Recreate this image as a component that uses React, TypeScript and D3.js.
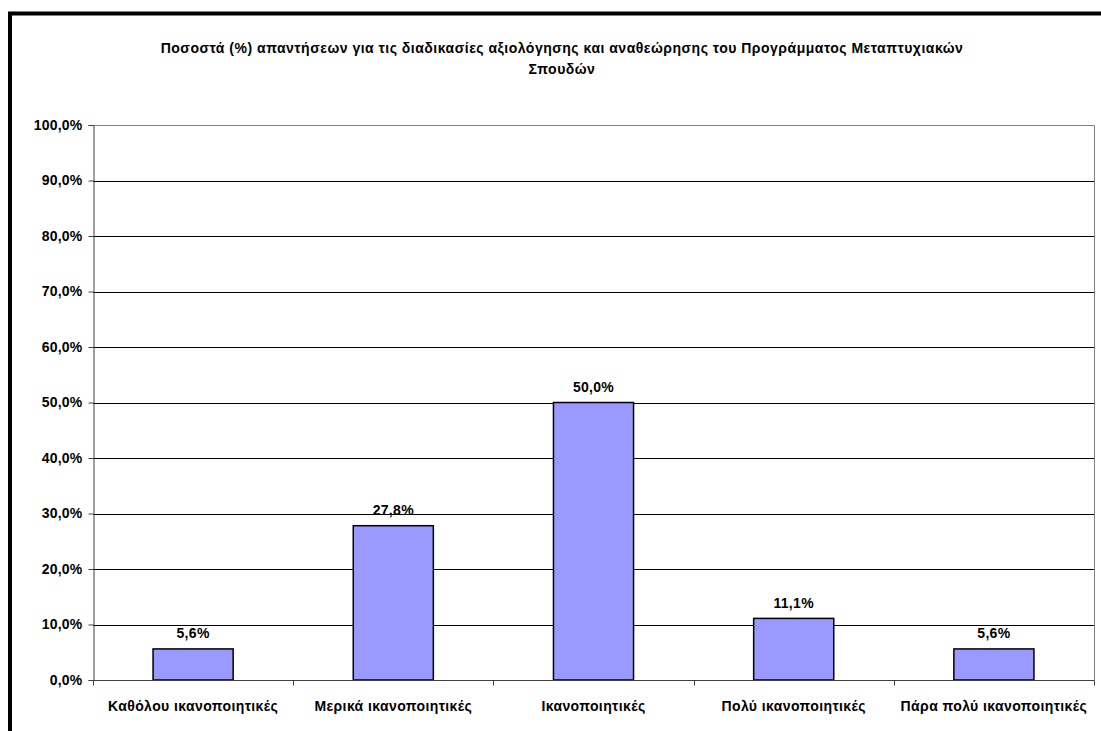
import React, { useEffect, useRef } from 'react';
import * as d3 from 'd3';

const titleLines = [
  'Ποσοστά (%) απαντήσεων για τις διαδικασίες αξιολόγησης και αναθεώρησης του Προγράμματος Μεταπτυχιακών',
  'Σπουδών',
];
const categories = [
  'Καθόλου ικανοποιητικές',
  'Μερικά ικανοποιητικές',
  'Ικανοποιητικές',
  'Πολύ ικανοποιητικές',
  'Πάρα πολύ ικανοποιητικές',
];
const values = [5.6, 27.8, 50.0, 11.1, 5.6];
const yTicks = [0, 10, 20, 30, 40, 50, 60, 70, 80, 90, 100];

export default function App() {
  const ref = useRef<SVGSVGElement>(null);

  const width = 1101;
  const height = 731;
  const left = 93;
  const right = 1094;
  const top = 125;
  const bottom = 680;
  const font = 'Arial, "Liberation Sans", sans-serif';
  const fontSize = 14;

  useEffect(() => {
    const svg = d3.select(ref.current);
    svg.selectAll('*').remove();

    const fmt = (v: number) => d3.format('.1f')(v).replace('.', ',') + '%';

    const x = d3.scaleBand<string>().domain(categories).range([left, right]).padding(0);
    const y = d3.scaleLinear().domain([0, 100]).range([bottom, top]);

    // outer frame
    svg
      .append('rect')
      .attr('x', 10)
      .attr('y', 13.5)
      .attr('width', 1200)
      .attr('height', 900)
      .attr('fill', 'white')
      .attr('stroke', 'black')
      .attr('stroke-width', 4);

    // title
    svg
      .append('g')
      .selectAll('text')
      .data(titleLines)
      .enter()
      .append('text')
      .attr('x', 562)
      .attr('y', (d, i) => 53 + i * 21)
      .attr('text-anchor', 'middle')
      .attr('font-family', font)
      .attr('font-weight', 'bold')
      .attr('font-size', fontSize)
      .attr('letter-spacing', 0.5)
      .text((d) => d);

    // gridlines
    svg
      .append('g')
      .selectAll('line')
      .data(yTicks.filter((t) => t > 0 && t < 100))
      .enter()
      .append('line')
      .attr('x1', left)
      .attr('x2', right)
      .attr('y1', (d) => Math.round(y(d)) + 0.5)
      .attr('y2', (d) => Math.round(y(d)) + 0.5)
      .attr('stroke', 'black')
      .attr('stroke-width', 1);

    // plot border top / right
    svg
      .append('path')
      .attr('d', `M${left},${top + 0.5}H${right + 0.5}V${bottom}`)
      .attr('fill', 'none')
      .attr('stroke', '#808080')
      .attr('stroke-width', 1);

    // bars
    const barW = x.bandwidth() * 0.4;
    svg
      .append('g')
      .selectAll('rect')
      .data(values)
      .enter()
      .append('rect')
      .attr('x', (d, i) => x(categories[i])! + (x.bandwidth() - barW) / 2)
      .attr('y', (d) => y(d))
      .attr('width', barW)
      .attr('height', (d) => bottom - y(d))
      .attr('fill', '#9999FF')
      .attr('stroke', 'black')
      .attr('stroke-width', 1.5);

    // value labels
    svg
      .append('g')
      .selectAll('text')
      .data(values)
      .enter()
      .append('text')
      .attr('x', (d, i) => x(categories[i])! + x.bandwidth() / 2)
      .attr('y', (d) => y(d) - 10.5)
      .attr('text-anchor', 'middle')
      .attr('font-family', font)
      .attr('font-weight', 'bold')
      .attr('font-size', fontSize)
      .attr('letter-spacing', 0.3)
      .text((d) => fmt(d));

    // y axis
    const yAxis = d3
      .axisLeft(y)
      .tickValues(yTicks)
      .tickSize(5)
      .tickPadding(6)
      .tickFormat((d) => fmt(d as number));
    const gy = svg.append('g').attr('transform', `translate(${left + 0.5},0)`).call(yAxis);
    gy.select('.domain').attr('stroke', '#404040');
    gy.selectAll('.tick line').attr('stroke', '#404040');
    gy.selectAll('text')
      .attr('font-family', font)
      .attr('font-weight', 'bold')
      .attr('font-size', fontSize)
      .attr('letter-spacing', 0.2)
      .attr('fill', 'black');

    // x axis: ticks between categories
    const gx = svg.append('g').attr('transform', `translate(0,${bottom + 0.5})`);
    gx.append('line')
      .attr('x1', left)
      .attr('x2', right + 0.5)
      .attr('stroke', '#404040');
    gx.selectAll('line.tick')
      .data(d3.range(categories.length + 1))
      .enter()
      .append('line')
      .attr('class', 'tick')
      .attr('x1', (i) => Math.round(left + i * x.step()) + 0.5)
      .attr('x2', (i) => Math.round(left + i * x.step()) + 0.5)
      .attr('y1', 0)
      .attr('y2', 5)
      .attr('stroke', '#404040');
    gx.selectAll('text')
      .data(categories)
      .enter()
      .append('text')
      .attr('x', (d) => x(d)! + x.bandwidth() / 2)
      .attr('y', 30)
      .attr('text-anchor', 'middle')
      .attr('font-family', font)
      .attr('font-weight', 'bold')
      .attr('font-size', fontSize)
      .attr('letter-spacing', 0.4)
      .text((d) => d);
  }, []);

  return (
    <svg
      ref={ref}
      width={width}
      height={height}
      style={{ position: 'absolute', left: 0, top: 0, background: 'white' }}
    />
  );
}
